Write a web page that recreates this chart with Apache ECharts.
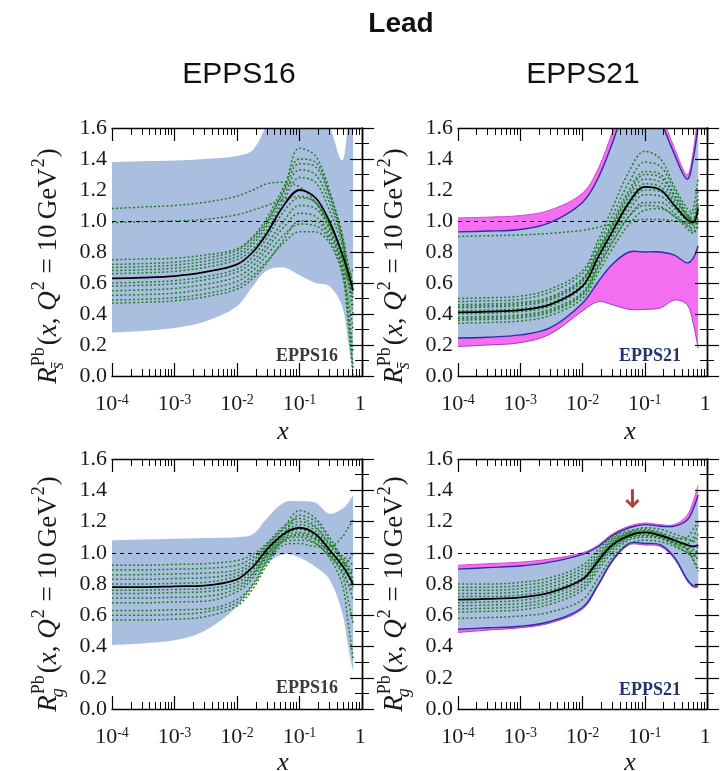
<!DOCTYPE html>
<html><head><meta charset="utf-8">
<script src="https://cdn.jsdelivr.net/npm/echarts@6/dist/echarts.min.js"></script>
<style>html,body{margin:0;padding:0;background:#fff}#c{width:725px;height:771px}</style>
</head><body><div id="c"></div>
<script>
// ---------- DATA ----------
const xGrid = [1e-4, 3e-4, 1e-3, 3e-3, 0.01, 0.018, 0.03, 0.056, 0.1, 0.18, 0.3, 0.48, 0.6, 0.72];
const xTickExponents = [-4, -3, -2, -1, 0];
const xMinorMultipliers = [2, 3, 4, 5, 6, 7, 8, 9];

// EPPS16, strange (top-left)
const tlCentral = [0.63,0.635,0.645,0.67,0.72,0.80,0.92,1.10,1.20,1.15,1.00,0.79,0.67,0.55];
const tlUpper   = [1.38,1.385,1.39,1.40,1.42,1.46,1.62,1.80,1.85,1.80,1.62,1.39,1.62,1.80];
const tlLower   = [0.28,0.29,0.31,0.35,0.45,0.58,0.68,0.70,0.65,0.60,0.58,0.45,0.22,0.00];
const tlSets = [
 [1.08,1.09,1.10,1.12,1.16,1.20,1.24,1.25,1.22,1.12,0.95,0.76,0.62,0.50],
 [0.99,0.995,1.00,1.01,1.04,1.07,1.10,1.14,1.16,1.12,0.98,0.80,0.66,0.55],
 [0.75,0.755,0.76,0.78,0.82,0.90,1.02,1.22,1.40,1.38,1.18,0.92,0.72,0.58],
 [0.72,0.725,0.735,0.76,0.81,0.89,1.00,1.19,1.37,1.35,1.16,0.88,0.60,0.40],
 [0.70,0.705,0.715,0.74,0.79,0.87,0.99,1.20,1.47,1.42,1.20,0.90,0.65,0.50],
 [0.68,0.685,0.695,0.72,0.77,0.85,0.97,1.16,1.33,1.30,1.12,0.88,0.70,0.60],
 [0.66,0.665,0.675,0.70,0.75,0.82,0.94,1.13,1.28,1.25,1.07,0.84,0.66,0.52],
 [0.60,0.605,0.615,0.64,0.69,0.77,0.89,1.06,1.15,1.12,0.97,0.78,0.62,0.45],
 [0.58,0.585,0.595,0.62,0.67,0.74,0.85,1.00,1.10,1.08,0.95,0.72,0.50,0.30],
 [0.55,0.555,0.565,0.59,0.64,0.71,0.82,0.96,1.05,1.03,0.92,0.70,0.45,0.15],
 [0.52,0.525,0.535,0.56,0.61,0.68,0.78,0.91,0.98,0.97,0.88,0.68,0.40,0.05],
 [0.49,0.495,0.505,0.53,0.58,0.65,0.74,0.86,0.93,0.93,0.86,0.66,0.35,0.00],
 [0.47,0.475,0.485,0.51,0.56,0.63,0.73,0.88,1.00,1.00,0.90,0.75,0.62,0.70]
];

// EPPS21, strange (top-right)
const trCentral = [0.41,0.415,0.425,0.46,0.58,0.77,0.93,1.12,1.22,1.20,1.10,1.01,0.99,1.08];
const trBlueUp  = [0.93,0.935,0.945,0.99,1.12,1.28,1.50,1.80,1.90,1.65,1.43,1.27,1.40,1.62];
const trBlueLo  = [0.245,0.25,0.265,0.31,0.47,0.61,0.72,0.80,0.80,0.80,0.78,0.73,0.76,0.84];
const trMagUp   = [1.02,1.025,1.035,1.07,1.18,1.34,1.57,1.85,1.95,1.70,1.47,1.30,1.45,1.70];
const trMagLo   = [0.19,0.20,0.215,0.27,0.42,0.48,0.46,0.43,0.43,0.44,0.49,0.46,0.34,0.18];
const trSets = [
 [0.90,0.905,0.91,0.92,0.94,0.96,0.98,1.00,1.01,1.01,1.00,0.99,0.98,1.00],
 [0.50,0.505,0.515,0.56,0.68,0.88,1.08,1.32,1.45,1.40,1.22,1.08,1.05,1.20],
 [0.48,0.485,0.495,0.54,0.66,0.85,1.03,1.25,1.38,1.35,1.20,1.05,1.00,1.15],
 [0.46,0.465,0.475,0.51,0.63,0.82,0.99,1.20,1.32,1.30,1.17,1.04,1.02,1.12],
 [0.45,0.455,0.465,0.50,0.62,0.81,0.97,1.18,1.30,1.28,1.16,1.03,1.00,1.10],
 [0.44,0.445,0.455,0.49,0.61,0.80,0.96,1.16,1.27,1.25,1.14,1.03,1.00,1.10],
 [0.42,0.425,0.435,0.47,0.59,0.78,0.94,1.13,1.24,1.22,1.12,1.00,0.93,0.96],
 [0.40,0.405,0.415,0.45,0.57,0.75,0.91,1.10,1.20,1.19,1.10,1.02,1.08,1.28],
 [0.38,0.385,0.395,0.43,0.54,0.73,0.89,1.07,1.17,1.16,1.08,1.00,0.97,1.05],
 [0.37,0.375,0.385,0.42,0.53,0.71,0.86,1.03,1.10,1.09,1.03,0.98,1.00,0.98],
 [0.36,0.365,0.375,0.41,0.52,0.70,0.86,1.03,1.12,1.12,1.05,0.97,0.95,1.02],
 [0.34,0.345,0.355,0.39,0.50,0.67,0.82,0.98,1.07,1.08,1.03,0.95,0.92,0.98]
];

// EPPS16, gluon (bottom-left)
const blCentral = [0.78,0.78,0.785,0.79,0.83,0.91,1.02,1.12,1.16,1.12,1.02,0.92,0.86,0.80];
const blUpper   = [1.08,1.085,1.09,1.095,1.10,1.12,1.22,1.32,1.33,1.32,1.25,1.28,1.32,1.37];
const blLower   = [0.41,0.42,0.44,0.50,0.655,0.80,0.93,0.99,0.97,0.91,0.83,0.62,0.40,0.24];
const blSets = [
 [0.92,0.92,0.925,0.93,0.95,0.99,1.06,1.17,1.22,1.17,1.05,0.95,0.88,0.82],
 [0.89,0.89,0.895,0.90,0.92,0.97,1.05,1.16,1.27,1.22,1.10,0.97,0.92,0.88],
 [0.86,0.86,0.865,0.87,0.89,0.95,1.04,1.15,1.20,1.16,1.06,0.98,0.95,0.92],
 [0.83,0.83,0.835,0.84,0.87,0.93,1.03,1.13,1.18,1.14,1.03,0.92,0.85,0.78],
 [0.80,0.80,0.805,0.81,0.85,0.91,1.01,1.12,1.24,1.20,1.08,0.96,0.90,0.84],
 [0.76,0.76,0.765,0.77,0.81,0.89,1.00,1.11,1.15,1.11,1.02,0.94,0.90,0.86],
 [0.74,0.74,0.745,0.75,0.79,0.87,0.99,1.10,1.13,1.10,1.01,0.90,0.80,0.70],
 [0.71,0.71,0.715,0.72,0.77,0.86,0.98,1.09,1.11,1.08,0.99,0.86,0.70,0.55],
 [0.68,0.68,0.685,0.69,0.75,0.84,0.97,1.08,1.10,1.06,0.97,0.80,0.55,0.32],
 [0.63,0.63,0.635,0.64,0.70,0.80,0.95,1.08,1.12,1.09,1.00,0.88,0.80,0.76],
 [0.60,0.60,0.605,0.62,0.68,0.79,0.94,1.07,1.08,1.06,0.98,0.92,0.95,1.00],
 [0.57,0.57,0.575,0.59,0.66,0.77,0.92,1.05,1.06,1.04,1.04,1.10,1.16,1.21]
];

// EPPS21, gluon (bottom-right)
const brCentral = [0.70,0.705,0.715,0.745,0.83,0.95,1.05,1.11,1.13,1.11,1.08,1.05,1.04,1.05];
const brBlueUp  = [0.895,0.905,0.915,0.94,0.99,1.04,1.11,1.16,1.18,1.17,1.17,1.21,1.28,1.37];
const brBlueLo  = [0.51,0.52,0.53,0.56,0.65,0.80,0.95,1.06,1.06,1.05,0.97,0.83,0.79,0.79];
const brMagUp   = [0.92,0.93,0.94,0.96,1.00,1.05,1.12,1.17,1.19,1.18,1.18,1.24,1.33,1.43];
const brMagLo   = [0.49,0.505,0.52,0.55,0.64,0.79,0.94,1.05,1.05,1.04,0.96,0.82,0.78,0.78];
const brSets = [
 [0.80,0.80,0.81,0.84,0.92,1.02,1.10,1.14,1.15,1.13,1.10,1.08,1.10,1.18],
 [0.78,0.78,0.79,0.82,0.90,1.00,1.09,1.13,1.14,1.12,1.09,1.10,1.15,1.20],
 [0.76,0.76,0.77,0.80,0.88,0.98,1.08,1.12,1.14,1.12,1.08,1.04,1.02,1.00],
 [0.74,0.74,0.75,0.78,0.86,0.97,1.07,1.12,1.13,1.11,1.07,1.03,1.00,0.95],
 [0.72,0.72,0.73,0.76,0.84,0.96,1.06,1.13,1.16,1.15,1.12,1.09,1.07,1.10],
 [0.68,0.685,0.695,0.73,0.82,0.94,1.04,1.10,1.11,1.09,1.05,1.00,0.97,1.05],
 [0.66,0.665,0.675,0.71,0.80,0.93,1.03,1.10,1.12,1.10,1.06,1.02,0.96,0.90],
 [0.64,0.645,0.655,0.69,0.78,0.91,1.02,1.09,1.11,1.10,1.07,1.06,1.08,1.12],
 [0.62,0.625,0.635,0.67,0.76,0.89,1.00,1.08,1.10,1.09,1.06,1.02,0.95,0.88],
 [0.58,0.585,0.595,0.62,0.70,0.84,0.97,1.06,1.08,1.07,1.04,1.00,0.98,1.02]
];

const arrowX = [0.0635];
const arrowY = [1.345];

// ---------- STYLE / LAYOUT ----------
const SERIF = '"Liberation Serif","Times New Roman",serif';
const SANS = '"Liberation Sans","Arial",sans-serif';
const BLUE = '#aabfdf', MAG = '#f46ef0', GREEN = '#237f23';
const SMOOTH = 0.35;
const grids = [
  {left:112, top:128, width:250, height:248},
  {left:458, top:128, width:249, height:248},
  {left:112, top:459, width:250, height:250},
  {left:458, top:459, width:249, height:250}
];

const xMajor = xTickExponents.slice();
const xMinor = [];
xTickExponents.slice(0, -1).forEach(e => xMinorMultipliers.forEach(k => xMinor.push(e + Math.log10(k))));

const xy = vals => xGrid.map((x, i) => [Math.log10(x), vals[i]]);

const xAxes = [], yAxes = [], series = [];
const lineCol = '#000';
grids.forEach((g, gi) => {
  const base = {type:'value', gridIndex:gi, min:-4, max:0, splitLine:{show:false}, z:10};
  xAxes.push(Object.assign({}, base, {position:'bottom', interval:1,
    axisLine:{show:true, lineStyle:{color:lineCol, width:1.4}},
    axisTick:{show:true, inside:true, length:13, customValues:xMajor, lineStyle:{color:lineCol, width:1.2}},
    axisLabel:{show:true, customValues:xMajor, margin:17,
      formatter: v => { const e = Math.round(v); return e === 0 ? '{n|1}{s| }' : '{n|10}{s|' + e + '}'; },
      rich:{ n:{fontFamily:SERIF, fontSize:22, color:'#1a1a1a', lineHeight:22, verticalAlign:'bottom'},
             s:{fontFamily:SERIF, fontSize:14, color:'#1a1a1a', lineHeight:14, verticalAlign:'top', padding:[0,0,14,0]} }
    }}));
  xAxes.push(Object.assign({}, base, {position:'bottom', axisLine:{show:false},
    axisTick:{show:true, inside:true, length:7, customValues:xMinor, lineStyle:{color:lineCol, width:1}},
    axisLabel:{show:false}}));
  xAxes.push(Object.assign({}, base, {position:'top', interval:1,
    axisLine:{show:true, lineStyle:{color:lineCol, width:1.4}},
    axisTick:{show:true, inside:true, length:13, customValues:xMajor, lineStyle:{color:lineCol, width:1.2}},
    axisLabel:{show:false}}));
  xAxes.push(Object.assign({}, base, {position:'top', axisLine:{show:false},
    axisTick:{show:true, inside:true, length:7, customValues:xMinor, lineStyle:{color:lineCol, width:1}},
    axisLabel:{show:false}}));
  const ybase = {type:'value', gridIndex:gi, min:0, max:1.6, interval:0.2, splitLine:{show:false}, z:10,
    axisLine:{show:true, lineStyle:{color:lineCol, width:1.4}},
    axisTick:{show:true, inside:true, length:12, lineStyle:{color:lineCol, width:1.2}},
    minorTick:{show:true, splitNumber:2, length:7, lineStyle:{color:lineCol, width:1}}};
  yAxes.push(Object.assign({}, ybase, {position:'left',
    axisLabel:{show:true, margin:5, fontFamily:SERIF, fontSize:22, color:'#1a1a1a', formatter: v => v.toFixed(1)}}));
  yAxes.push(Object.assign({}, ybase, {position:'right', axisLabel:{show:false}}));
});

// smooth bezier segments through pixel points (same scheme as ECharts line smoothing)
function smoothSeg(P, s) {
  const n = P.length, cin = [], cout = [];
  for (let i = 0; i < n; i++) {
    if (i === 0 || i === n - 1) { cin[i] = P[i]; cout[i] = P[i]; continue; }
    const vx = P[i+1][0] - P[i-1][0], vy = P[i+1][1] - P[i-1][1];
    const d0 = Math.hypot(P[i][0] - P[i-1][0], P[i][1] - P[i-1][1]);
    const d1 = Math.hypot(P[i+1][0] - P[i][0], P[i+1][1] - P[i][1]);
    const r = (d0 + d1) ? d1 / (d0 + d1) : 0.5;
    cin[i] = [P[i][0] - vx * s * (1 - r), P[i][1] - vy * s * (1 - r)];
    cout[i] = [P[i][0] + vx * s * r, P[i][1] + vy * s * r];
  }
  const pt = p => p[0].toFixed(2) + ' ' + p[1].toFixed(2);
  let d = '';
  for (let i = 0; i < n - 1; i++) d += ' C ' + pt(cout[i]) + ' ' + pt(cin[i+1]) + ' ' + pt(P[i+1]);
  return d;
}
const ptS = p => p[0].toFixed(2) + ' ' + p[1].toFixed(2);

function band(gi, up, lo, fill, z, edges) {
  series.push({type:'custom', coordinateSystem:'cartesian2d', xAxisIndex:gi*4, yAxisIndex:gi*2,
    silent:true, z:z, animation:false, clip:true, data:xy(up), encode:{x:0, y:1},
    renderItem:(params, api) => {
      if (params.dataIndex !== 0) return null;
      const pu = xGrid.map((x, i) => api.coord([Math.log10(x), up[i]]));
      const pl = xGrid.map((x, i) => api.coord([Math.log10(x), lo[i]])).reverse();
      const children = [{type:'path',
        shape:{pathData:'M ' + ptS(pu[0]) + smoothSeg(pu, SMOOTH) + ' L ' + ptS(pl[0]) + smoothSeg(pl, SMOOTH) + ' Z'},
        style:{fill:fill, stroke:'none'}}];
      if (edges) {
        [[pu, edges[0]], [pl, edges[1]]].forEach(([P, st]) => children.push({type:'path',
          shape:{pathData:'M ' + ptS(P[0]) + smoothSeg(P, SMOOTH)},
          style:{fill:'none', stroke:st.color, lineWidth:st.width}}));
      }
      const cs = params.coordSys;
      return {type:'group', children:children,
        clipPath:{type:'rect', shape:{x:cs.x, y:cs.y, width:cs.width, height:cs.height}}};
    }});
}
function common(gi, z) {
  return {type:'line', xAxisIndex:gi*4, yAxisIndex:gi*2, smooth:SMOOTH, symbol:'none', silent:true, z:z, animation:false};
}
function sets(gi, arr) {
  arr.forEach(v => series.push(Object.assign(common(gi, 4), {data:xy(v), lineStyle:{color:GREEN, width:1.5, type:[2,2.2]}})));
}
function central(gi, vals) {
  series.push(Object.assign(common(gi, 5), {data:xy(vals), lineStyle:{color:'#000', width:1.8},
    markLine:{silent:true, symbol:['none','none'], label:{show:false}, animation:false,
      lineStyle:{color:'#000', type:[4,4], width:1.2}, data:[{yAxis:1}]}}));
}
const magEdges = [{color:'#d24ad2', width:1}, {color:'#9a3ac8', width:1}];
const blueEdges = [{color:'#2d2da8', width:1.4}, {color:'#2d2da8', width:1.4}];

// TL
band(0, tlUpper, tlLower, BLUE, 1);
sets(0, tlSets); central(0, tlCentral);
// TR
band(1, trMagUp, trMagLo, MAG, 1, magEdges);
band(1, trBlueUp, trBlueLo, BLUE, 2, blueEdges);
sets(1, trSets); central(1, trCentral);
// BL
band(2, blUpper, blLower, BLUE, 1);
sets(2, blSets); central(2, blCentral);
// BR
band(3, brMagUp, brMagLo, MAG, 1, magEdges);
band(3, brBlueUp, brBlueLo, BLUE, 2, blueEdges);
sets(3, brSets); central(3, brCentral);
// arrow
series.push({type:'scatter', xAxisIndex:12, yAxisIndex:6, silent:true, z:6, animation:false,
  data: arrowX.map((x, i) => [Math.log10(x), arrowY[i]]),
  symbol:'path://M5.5,0 L8.5,0 L8.5,13 L12,9.5 L14,11.5 L7,18.5 L0,11.5 L2,9.5 L5.5,13 Z',
  symbolSize:[14, 19], itemStyle:{color:'#9e1010'}});

// ---------- TEXT ----------
const ctx = document.createElement('canvas').getContext('2d');
const tw = (font, t) => { ctx.font = font; return ctx.measureText(t).width; };
function yLabel(cx, cy, sub) {
  const F1 = 27, F2 = 18;
  const fr = F1 + 'px ' + SERIF, fi = 'italic ' + F1 + 'px ' + SERIF;
  const sr = F2 + 'px ' + SERIF, si = 'italic ' + F2 + 'px ' + SERIF;
  const parts = [];
  let x = 0;
  const put = (t, font, dy, px) => parts.push({t, font, dy, x: px});
  put('R', fi, 0, x); x += tw(fi, 'R');
  put('Pb', sr, -10, x + 1); put(sub, si, 9, x - 2);
  x += Math.max(tw(sr, 'Pb'), tw(si, sub)) + 3;
  [['(', fr], ['x', fi], [', ', fr], ['Q', fi]].forEach(([t, f]) => { put(t, f, 0, x); x += tw(f, t); });
  put('2', sr, -10, x + 1); x += tw(sr, '2') + 2;
  put(' = 10\u2009GeV', fr, 0, x); x += tw(fr, ' = 10\u2009GeV');
  put('2', sr, -10, x + 1); x += tw(sr, '2') + 2;
  put(')', fr, 0, x); x += tw(fr, ')');
  const half = x / 2;
  return {type:'group', x:cx, y:cy, rotation:Math.PI / 2, silent:true,
    children: parts.map(p => ({type:'text', x:p.x - half, y:p.dy,
      style:{text:p.t, font:p.font, fill:'#1a1a1a', align:'left', verticalAlign:'middle', textAlign:'left', textVerticalAlign:'middle'}}))};
}
function txt(x, y, text, font, fill, align) {
  return {type:'text', x, y, silent:true, style:{text, font, fill, align:align || 'center', verticalAlign:'middle',
    textAlign:align || 'center', textVerticalAlign:'middle'}};
}
const graphics = [
  txt(401, 24, 'Lead', 'bold 28px ' + SANS, '#111'),
  txt(239, 75, 'EPPS16', '30px ' + SANS, '#111'),
  txt(583, 75, 'EPPS21', '30px ' + SANS, '#111'),
  yLabel(49, 266, 's\u0304'), yLabel(395, 266, 's\u0304'),
  yLabel(49, 594, 'g'), yLabel(395, 594, 'g'),
  txt(283, 432, 'x', 'italic 26px ' + SERIF, '#1a1a1a'),
  txt(630, 432, 'x', 'italic 26px ' + SERIF, '#1a1a1a'),
  txt(283, 763, 'x', 'italic 26px ' + SERIF, '#1a1a1a'),
  txt(630, 763, 'x', 'italic 26px ' + SERIF, '#1a1a1a'),
  txt(338, 356, 'EPPS16', 'bold 18px ' + SERIF, '#3a3a3a', 'right'),
  txt(681, 356, 'EPPS21', 'bold 18px ' + SERIF, '#22336e', 'right'),
  txt(338, 688, 'EPPS16', 'bold 18px ' + SERIF, '#3a3a3a', 'right'),
  txt(681, 690, 'EPPS21', 'bold 18px ' + SERIF, '#22336e', 'right')
];

const chart = echarts.init(document.getElementById('c'), null, {renderer:'canvas'});
chart.setOption({
  animation:false,
  backgroundColor:'#fff',
  grid: grids,
  xAxis: xAxes,
  yAxis: yAxes,
  series: series,
  graphic: graphics
});
</script>
</body></html>
